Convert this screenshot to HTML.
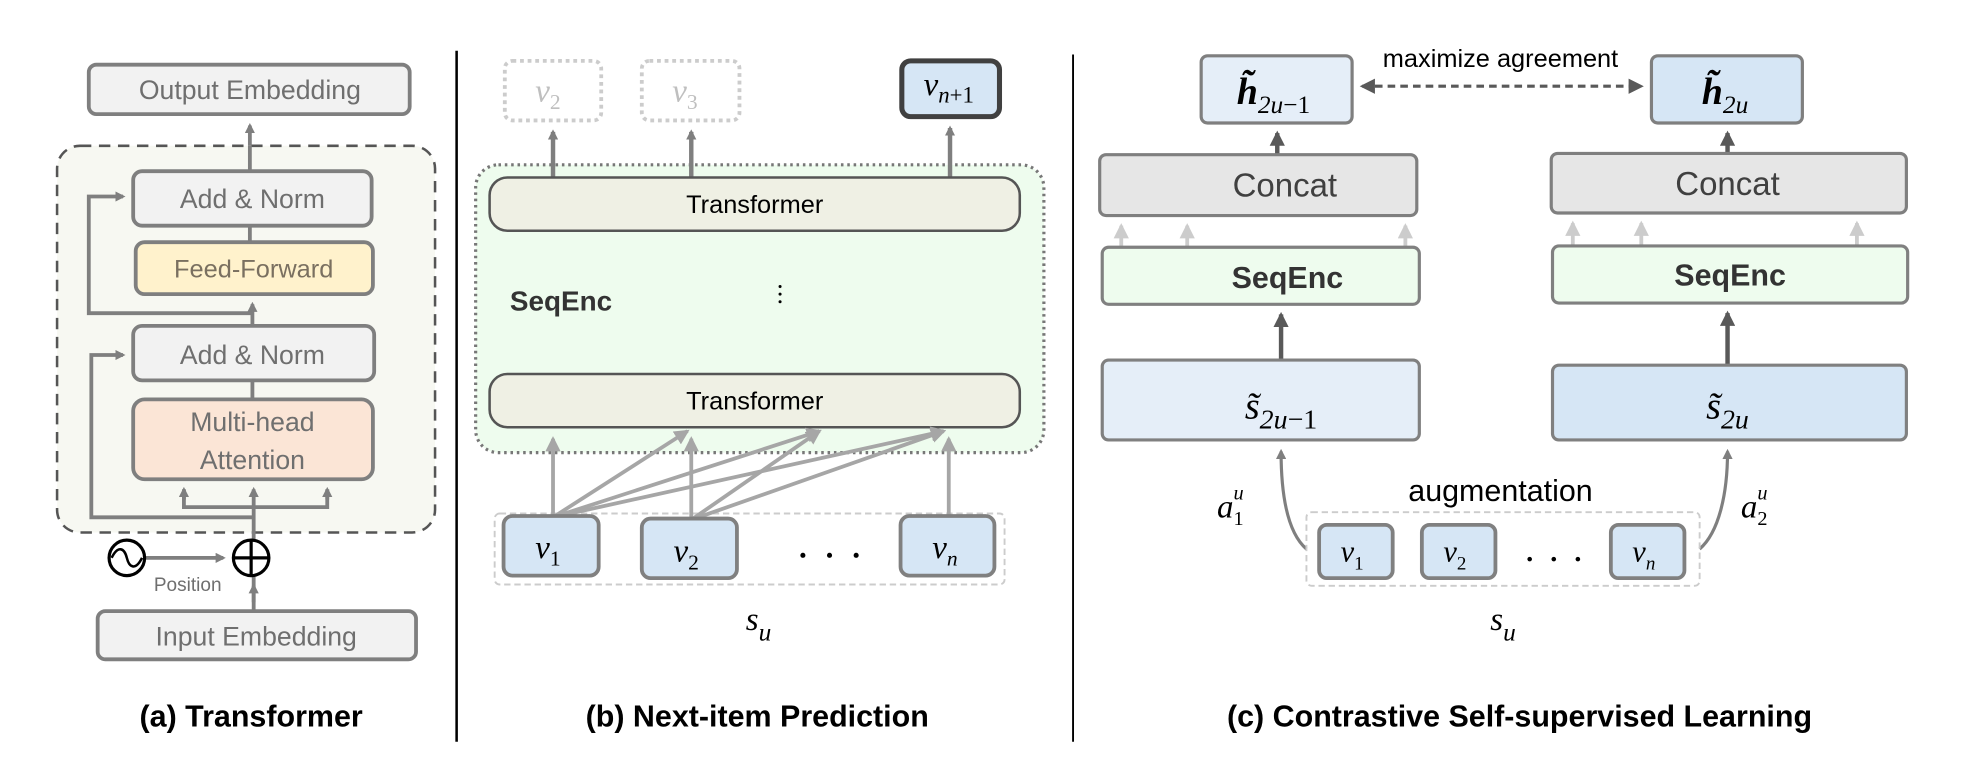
<!DOCTYPE html>
<html><head><meta charset="utf-8"><style>
html,body{margin:0;padding:0;background:#fff;}
svg{display:block;}
.s{font-family:"Liberation Sans",sans-serif;}
.m{font-family:"Liberation Serif",serif;font-style:italic;}
</style></head><body>
<svg width="1966" height="762" viewBox="0 0 1550 601" preserveAspectRatio="none" xmlns="http://www.w3.org/2000/svg">
<defs>
<marker id="ag" markerWidth="8" markerHeight="8" refX="6" refY="4" orient="auto" markerUnits="userSpaceOnUse"><path d="M0,0 L8,4 L0,8 z" fill="#7f7f7f"/></marker>
<marker id="al" markerWidth="12" markerHeight="12" refX="10" refY="6" orient="auto" markerUnits="userSpaceOnUse"><path d="M0,0 L12,6 L0,12 z" fill="#a6a6a6"/></marker>
<marker id="ac" markerWidth="12" markerHeight="12" refX="10" refY="6" orient="auto" markerUnits="userSpaceOnUse"><path d="M0,0 L12,6 L0,12 z" fill="#cccccc"/></marker>
<marker id="ad" markerWidth="12" markerHeight="12" refX="10" refY="6" orient="auto" markerUnits="userSpaceOnUse"><path d="M0,0 L12,6 L0,12 z" fill="#595959"/></marker>
<marker id="ad2" markerWidth="12" markerHeight="12" refX="10" refY="6" orient="auto-start-reverse" markerUnits="userSpaceOnUse"><path d="M0,0 L12,6 L0,12 z" fill="#595959"/></marker>
</defs>

<line x1="360" y1="40" x2="360" y2="585" stroke="#000" stroke-width="2"/>
<line x1="846" y1="43" x2="846" y2="585" stroke="#000" stroke-width="1.5"/>

<!-- ===== Panel A ===== -->
<g stroke="#7f7f7f" stroke-width="3">
<rect x="70" y="51" width="253" height="39" rx="6" fill="#f2f2f2"/>
<rect x="45" y="115" width="298" height="305" rx="18" fill="#f7f8f2" stroke="#555" stroke-width="2" stroke-dasharray="9,6"/>
<line x1="197" y1="115" x2="197" y2="99" marker-end="url(#ag)"/>
<line x1="197" y1="135" x2="197" y2="115"/>
<rect x="105" y="135" width="188" height="43" rx="7" fill="#f2f2f2"/>
<rect x="107" y="191" width="187" height="41" rx="7" fill="#fff2cc"/>
<rect x="105" y="257" width="190" height="43" rx="7" fill="#f2f2f2"/>
<rect x="105" y="315" width="189" height="63" rx="9" fill="#fbe5d6"/>
<line x1="197" y1="178" x2="197" y2="191"/>
<line x1="199" y1="257" x2="199" y2="240" marker-end="url(#ag)"/>
<line x1="199" y1="300" x2="199" y2="315"/>
<polyline points="199,247 70,247 70,155 97,155" fill="none" marker-end="url(#ag)"/>
<polyline points="201,408 72,408 72,280 97,280" fill="none" marker-end="url(#ag)"/>
<line x1="200" y1="475" x2="200" y2="386" marker-end="url(#ag)"/>
<polyline points="145,386 145,400 258,400 258,386" fill="none"/>
<line x1="145" y1="394" x2="145" y2="386" marker-end="url(#ag)"/>
<line x1="258" y1="394" x2="258" y2="386" marker-end="url(#ag)"/>
<line x1="114" y1="440" x2="176" y2="440" marker-end="url(#ag)"/>
<line x1="200" y1="482" x2="200" y2="462" marker-end="url(#ag)"/>
<rect x="77" y="482" width="251" height="38" rx="6" fill="#f2f2f2"/>
</g>
<circle cx="198" cy="440" r="14" fill="#fff" stroke="#000" stroke-width="2.5"/>
<line x1="184" y1="440" x2="212" y2="440" stroke="#000" stroke-width="2.5"/>
<line x1="198" y1="426" x2="198" y2="454" stroke="#000" stroke-width="2.5"/>
<circle cx="100" cy="440" r="14" fill="#fff" stroke="#000" stroke-width="2.5"/>
<path d="M88,440 C93,430 98,432 100,440 C102,448 107,450 112,440" fill="none" stroke="#000" stroke-width="2"/>
<g class="s" fill="#6f6f6f" text-anchor="middle">
<text x="197" y="78" font-size="21">Output Embedding</text>
<text x="199" y="164" font-size="21">Add &amp; Norm</text>
<text x="200" y="219" font-size="20" fill="#7a7060">Feed-Forward</text>
<text x="199" y="287" font-size="21">Add &amp; Norm</text>
<text x="199" y="340" font-size="21">Multi-head</text>
<text x="199" y="370" font-size="21">Attention</text>
<text x="148" y="466" font-size="15">Position</text>
<text x="202" y="509" font-size="21">Input Embedding</text>
</g>
<text x="198" y="573" class="s" font-size="24" font-weight="bold" text-anchor="middle" fill="#000">(a) Transformer</text>

<!-- ===== Panel B ===== -->
<rect x="398" y="48" width="76" height="47" rx="6" fill="none" stroke="#ccc" stroke-width="3" stroke-dasharray="3,3"/>
<rect x="506" y="48" width="77" height="47" rx="6" fill="none" stroke="#ccc" stroke-width="3" stroke-dasharray="3,3"/>
<rect x="711" y="48" width="77" height="44" rx="7" fill="#d6e6f5" stroke="#404040" stroke-width="4"/>
<g class="m" fill="#bfbfbf" font-size="26" text-anchor="middle">
<text x="432" y="80">v<tspan font-size="17" font-style="normal" dy="6">2</tspan></text>
<text x="540" y="80">v<tspan font-size="17" font-style="normal" dy="6">3</tspan></text>
</g>
<text x="748" y="75" class="m" fill="#000" font-size="26" text-anchor="middle">v<tspan font-size="18" dy="6">n</tspan><tspan font-size="18" font-style="normal">+1</tspan></text>
<rect x="375" y="130" width="448" height="227" rx="18" fill="#eefcee" stroke="#777" stroke-width="2.5" stroke-dasharray="2,3"/>
<g stroke="#7f7f7f" stroke-width="3.5">
<line x1="436" y1="140" x2="436" y2="104" marker-end="url(#ag)"/>
<line x1="545" y1="140" x2="545" y2="104" marker-end="url(#ag)"/>
<line x1="749" y1="140" x2="749" y2="101" marker-end="url(#ag)"/>
</g>
<rect x="386" y="140" width="418" height="42" rx="14" fill="#eff0e4" stroke="#555" stroke-width="2"/>
<rect x="386" y="295" width="418" height="42" rx="14" fill="#eff0e4" stroke="#555" stroke-width="2"/>
<g class="s" font-size="20" text-anchor="middle" fill="#000">
<text x="595" y="168">Transformer</text>
<text x="595" y="323">Transformer</text>
</g>
<text x="402" y="245" class="s" font-size="22" font-weight="bold" fill="#333">SeqEnc</text>
<g fill="#000"><circle cx="615" cy="226" r="1.2"/><circle cx="615" cy="232" r="1.2"/><circle cx="615" cy="238" r="1.2"/></g>
<rect x="390" y="405" width="402" height="56" rx="4" fill="none" stroke="#ccc" stroke-width="1.5" stroke-dasharray="5,3"/>
<g stroke="#a6a6a6" stroke-width="3" fill="none">
<line x1="436" y1="408" x2="436" y2="346" marker-end="url(#al)"/>
<line x1="436" y1="408" x2="542" y2="340" marker-end="url(#al)"/>
<line x1="436" y1="408" x2="646" y2="340" marker-end="url(#al)"/>
<line x1="436" y1="408" x2="744" y2="340" marker-end="url(#al)"/>
<line x1="545" y1="410" x2="545" y2="346" marker-end="url(#al)"/>
<line x1="545" y1="410" x2="646" y2="340" marker-end="url(#al)"/>
<line x1="545" y1="410" x2="744" y2="340" marker-end="url(#al)"/>
<line x1="748" y1="408" x2="748" y2="346" marker-end="url(#al)"/>
</g>
<g fill="#d6e6f5" stroke="#808080" stroke-width="3">
<rect x="397" y="407" width="75" height="47" rx="7"/>
<rect x="506" y="409" width="75" height="47" rx="7"/>
<rect x="710" y="407" width="74" height="47" rx="7"/>
</g>
<g class="m" fill="#000" font-size="26" text-anchor="middle">
<text x="432" y="440">v<tspan font-size="17" font-style="normal" dy="6">1</tspan></text>
<text x="541" y="443">v<tspan font-size="17" font-style="normal" dy="6">2</tspan></text>
<text x="745" y="440">v<tspan font-size="17" dy="6">n</tspan></text>
<text x="598" y="497">s<tspan font-size="20" dy="8">u</tspan></text>
</g>
<g fill="#000"><circle cx="633" cy="438" r="2"/><circle cx="654" cy="438" r="2"/><circle cx="675" cy="438" r="2"/></g>
<text x="597" y="573" class="s" font-size="24" font-weight="bold" text-anchor="middle" fill="#000">(b) Next-item Prediction</text>

<!-- ===== Panel C ===== -->
<rect x="947" y="44" width="119" height="53" rx="5" fill="#e5eef8" stroke="#7f7f7f" stroke-width="2.5"/>
<rect x="1302" y="44" width="119" height="53" rx="5" fill="#d6e6f5" stroke="#7f7f7f" stroke-width="2.5"/>
<line x1="1074" y1="68" x2="1294" y2="68" stroke="#595959" stroke-width="2.5" stroke-dasharray="6,4" marker-start="url(#ad2)" marker-end="url(#ad2)"/>
<text x="1183" y="53" class="s" font-size="20" text-anchor="middle" fill="#000">maximize agreement</text>
<g class="m" font-size="30" text-anchor="middle" fill="#000" font-weight="bold">
<text x="1004" y="82">h̃<tspan font-size="20" font-weight="normal" dy="7">2u</tspan><tspan font-size="20" font-weight="normal" font-style="normal">−1</tspan></text>
<text x="1360" y="82">h̃<tspan font-size="20" font-weight="normal" dy="7">2u</tspan></text>
</g>
<g stroke="#595959" stroke-width="3.5">
<line x1="1007" y1="122" x2="1007" y2="105" marker-end="url(#ad)"/>
<line x1="1362" y1="121" x2="1362" y2="105" marker-end="url(#ad)"/>
<line x1="1010" y1="284" x2="1010" y2="248" marker-end="url(#ad)"/>
<line x1="1362" y1="288" x2="1362" y2="247" marker-end="url(#ad)"/>
</g>
<rect x="867" y="122" width="250" height="48" rx="5" fill="#e6e6e6" stroke="#7f7f7f" stroke-width="2.5"/>
<rect x="1223" y="121" width="280" height="47" rx="5" fill="#e6e6e6" stroke="#7f7f7f" stroke-width="2.5"/>
<g stroke="#cccccc" stroke-width="3">
<line x1="884" y1="195" x2="884" y2="178" marker-end="url(#ac)"/>
<line x1="936" y1="195" x2="936" y2="178" marker-end="url(#ac)"/>
<line x1="1108" y1="195" x2="1108" y2="178" marker-end="url(#ac)"/>
<line x1="1240" y1="194" x2="1240" y2="176" marker-end="url(#ac)"/>
<line x1="1294" y1="194" x2="1294" y2="176" marker-end="url(#ac)"/>
<line x1="1464" y1="194" x2="1464" y2="176" marker-end="url(#ac)"/>
</g>
<rect x="869" y="195" width="250" height="45" rx="5" fill="#eefcee" stroke="#808080" stroke-width="2.5"/>
<rect x="1224" y="194" width="280" height="45" rx="5" fill="#eefcee" stroke="#808080" stroke-width="2.5"/>
<rect x="869" y="284" width="250" height="63" rx="5" fill="#e5eef8" stroke="#808080" stroke-width="2.5"/>
<rect x="1224" y="288" width="279" height="59" rx="5" fill="#d6e6f5" stroke="#808080" stroke-width="2.5"/>
<g class="s" text-anchor="middle">
<text x="1013" y="155" font-size="26" fill="#404040">Concat</text>
<text x="1362" y="154" font-size="26" fill="#404040">Concat</text>
<text x="1015" y="227" font-size="24" font-weight="bold" fill="#333">SeqEnc</text>
<text x="1364" y="225" font-size="24" font-weight="bold" fill="#333">SeqEnc</text>
<text x="1183" y="395" font-size="24" fill="#000">augmentation</text>
</g>
<g class="m" fill="#000" text-anchor="middle">
<text x="1010" y="330" font-size="30">s̃<tspan font-size="22" dy="8">2u</tspan><tspan font-size="22" font-style="normal">−1</tspan></text>
<text x="1362" y="330" font-size="30">s̃<tspan font-size="22" dy="8">2u</tspan></text>
<text x="970" y="408" font-size="26">a<tspan font-size="16" font-style="normal" dy="6">1</tspan><tspan font-size="16" dx="-8" dy="-20">u</tspan></text>
<text x="1383" y="408" font-size="26">a<tspan font-size="16" font-style="normal" dy="6">2</tspan><tspan font-size="16" dx="-8" dy="-20">u</tspan></text>
<text x="1185" y="497" font-size="26">s<tspan font-size="20" dy="8">u</tspan></text>
</g>
<g stroke="#7f7f7f" stroke-width="2.5" fill="none">
<path d="M1030,433 C1015,420 1010,390 1010,356" marker-end="url(#ag)"/>
<path d="M1340,433 C1355,420 1362,390 1362,356" marker-end="url(#ag)"/>
</g>
<rect x="1030" y="404" width="310" height="58" rx="4" fill="none" stroke="#ccc" stroke-width="1.5" stroke-dasharray="5,3"/>
<g fill="#d6e6f5" stroke="#808080" stroke-width="3">
<rect x="1040" y="414" width="58" height="42" rx="6"/>
<rect x="1121" y="414" width="58" height="42" rx="6"/>
<rect x="1270" y="414" width="58" height="42" rx="6"/>
</g>
<g class="m" fill="#000" font-size="24" text-anchor="middle">
<text x="1066" y="443">v<tspan font-size="15" font-style="normal" dy="6">1</tspan></text>
<text x="1147" y="443">v<tspan font-size="15" font-style="normal" dy="6">2</tspan></text>
<text x="1296" y="443">v<tspan font-size="15" dy="6">n</tspan></text>
</g>
<g fill="#000"><circle cx="1206" cy="441" r="1.8"/><circle cx="1225" cy="441" r="1.8"/><circle cx="1244" cy="441" r="1.8"/></g>
<text x="1198" y="573" class="s" font-size="24" font-weight="bold" text-anchor="middle" fill="#000">(c) Contrastive Self-supervised Learning</text>
</svg>
</body></html>
